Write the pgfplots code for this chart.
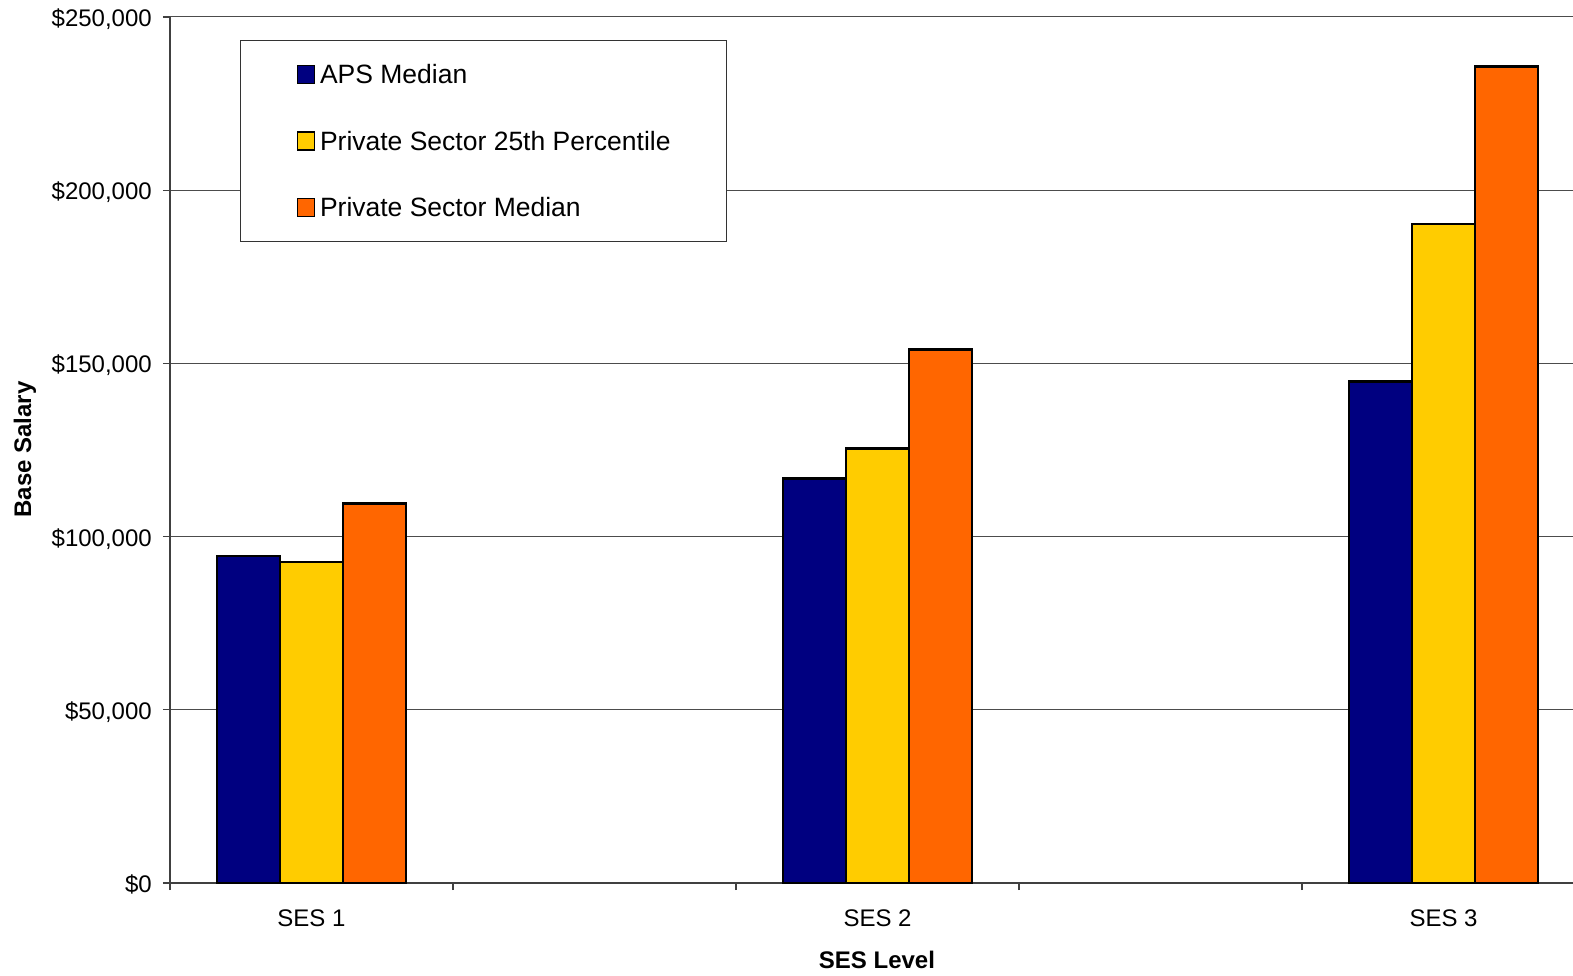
\documentclass[border=0pt]{standalone}
\usepackage{fontspec}
\setmainfont{Liberation Sans}
\usepackage{pgfplots}
\pgfplotsset{compat=1.18}

\definecolor{apsnavy}{HTML}{000080}
\definecolor{pvtyellow}{HTML}{FFCC00}
\definecolor{pvtorange}{HTML}{FF6600}

\begin{document}
\begin{tikzpicture}
\begin{axis}[
  at={(0pt,0pt)}, anchor=south west,
  width=1403pt, height=866pt, scale only axis,
  xmin=0, xmax=4.9576, ymin=0, ymax=250000,
  axis lines*=left,
  axis line style={-, black!75, line width=1.5pt},
  ybar=0pt, bar width=63pt,
  ytick={0,50000,100000,150000,200000,250000},
  yticklabels={\$0,{\$50,000},{\$100,000},{\$150,000},{\$200,000},{\$250,000}},
  xtick={0,1,2,3,4}, xticklabels={},
  extra x ticks={0.5,2.5,4.5},
  extra x tick labels={SES 1,SES 2,SES 3},
  extra x tick style={major tick length=0pt, xticklabel style={yshift=-26pt}},
  tick align=outside, major tick length=7pt,
  tick style={black!75, line width=1.2pt},
  ymajorgrids, major grid style={black!70, line width=1pt},
  ticklabel style={font=\fontsize{24}{29}\selectfont, inner sep=0pt, text height=17pt, text depth=0pt},
  yticklabel style={xshift=-11pt, yshift=-1pt},
  xlabel={SES Level}, ylabel={Base Salary},
  label style={font=\bfseries\fontsize{24}{29}\selectfont, inner sep=0pt},
  xlabel style={at={(axis description cs:0.5039,-0.0890)}, anchor=center},
  ylabel style={at={(axis description cs:-0.10335,0.5006)}, anchor=center},
  legend style={at={(axis description cs:0.0499,0.9734)}, anchor=north west,
    draw=black!80, line width=1pt, fill=white,
    inner xsep=56pt, inner ysep=24pt, row sep=47pt, column sep=5pt,
    font=\fontsize{26.5}{31}\selectfont,
    nodes={inner sep=0pt, text height=19pt, text depth=0pt}},
  legend cell align=left,
  every axis plot post/.append style={
    draw=black, line width=2.5pt,
    legend image code/.code={\draw[##1, line width=1.5pt] (0pt,-9pt) rectangle (17pt,9pt);}},
]
% base salary by SES level
\addplot[fill=apsnavy] coordinates {(0.5,94400) (2.5,116800) (4.5,144800)};
\addplot[fill=pvtyellow] coordinates {(0.5,92700) (2.5,125500) (4.5,190200)};
\addplot[fill=pvtorange] coordinates {(0.5,109500) (2.5,154000) (4.5,235700)};
\legend{APS Median, Private Sector 25th Percentile, Private Sector Median}
\end{axis}
\pgfresetboundingbox
\useasboundingbox (-170pt,-92pt) rectangle (1403pt,883pt);
\end{tikzpicture}
\end{document}
